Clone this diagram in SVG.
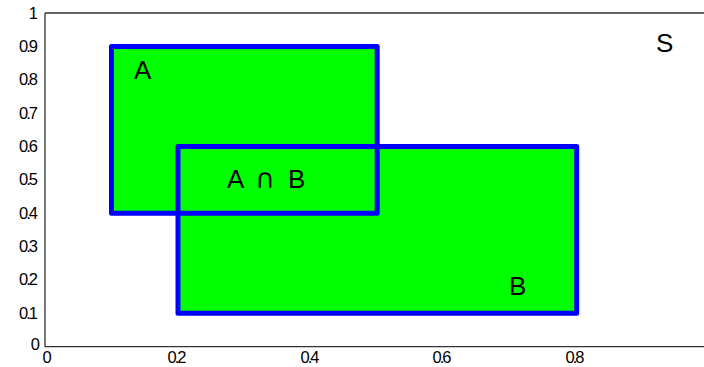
<svg xmlns="http://www.w3.org/2000/svg" width="704" height="367" viewBox="0 0 704 367">
<style>
.tick{font-family:"Liberation Sans",Arial,sans-serif;font-size:16.5px;fill:#000;letter-spacing:-2px}
.yl{text-anchor:end}
.xl{text-anchor:middle}
.lbl{font-family:"Liberation Sans",Arial,sans-serif;font-size:26px;fill:#000}
.cap{font-family:"DejaVu Sans",sans-serif;font-size:27px}
.fill{fill:#00ff00;stroke:none}
.edge{fill:none;stroke:#0000ff;stroke-width:5;stroke-linejoin:round}
</style>
<rect width="704" height="367" fill="#fff"/>
<g id="axes">
<path d="M45 13 H704 M45 13 V346.7 H704" fill="none" stroke="#333" stroke-width="1.3"/>
<text class="tick yl" x="36" y="19">1</text>
<text class="tick yl" x="36" y="52">0.9</text>
<text class="tick yl" x="36" y="85">0.8</text>
<text class="tick yl" x="36" y="119">0.7</text>
<text class="tick yl" x="36" y="152">0.6</text>
<text class="tick yl" x="36" y="185">0.5</text>
<text class="tick yl" x="36" y="219">0.4</text>
<text class="tick yl" x="36" y="252">0.3</text>
<text class="tick yl" x="36" y="285">0.2</text>
<text class="tick yl" x="36" y="319">0.1</text>
<text class="tick yl" x="38" y="350">0</text>
<text class="tick xl" x="46" y="363">0</text>
<text class="tick xl" x="176" y="363">0.2</text>
<text class="tick xl" x="309" y="363">0.4</text>
<text class="tick xl" x="441" y="363">0.6</text>
<text class="tick xl" x="574" y="363">0.8</text>
<text class="tick xl" x="708" y="363">1</text>
</g>
<g id="A">
<rect class="fill" x="111.5" y="46.4" width="265.7" height="166.8"/>
</g>
<g id="B">
<rect class="fill" x="178" y="146.5" width="398.7" height="166.8"/>
<rect class="edge" x="178" y="146.5" width="398.7" height="166.8"/>
</g>
<g id="A-outline">
<rect class="edge" x="111.5" y="46.4" width="265.7" height="166.8"/>
</g>
<g id="labels">
<text class="lbl" x="134" y="79">A</text>
<text class="lbl" x="227" y="188">A <tspan class="cap" x="255">∩</tspan><tspan x="288">B</tspan></text>
<text class="lbl" x="509" y="295">B</text>
<text class="lbl" x="656" y="52">S</text>
</g>
</svg>
